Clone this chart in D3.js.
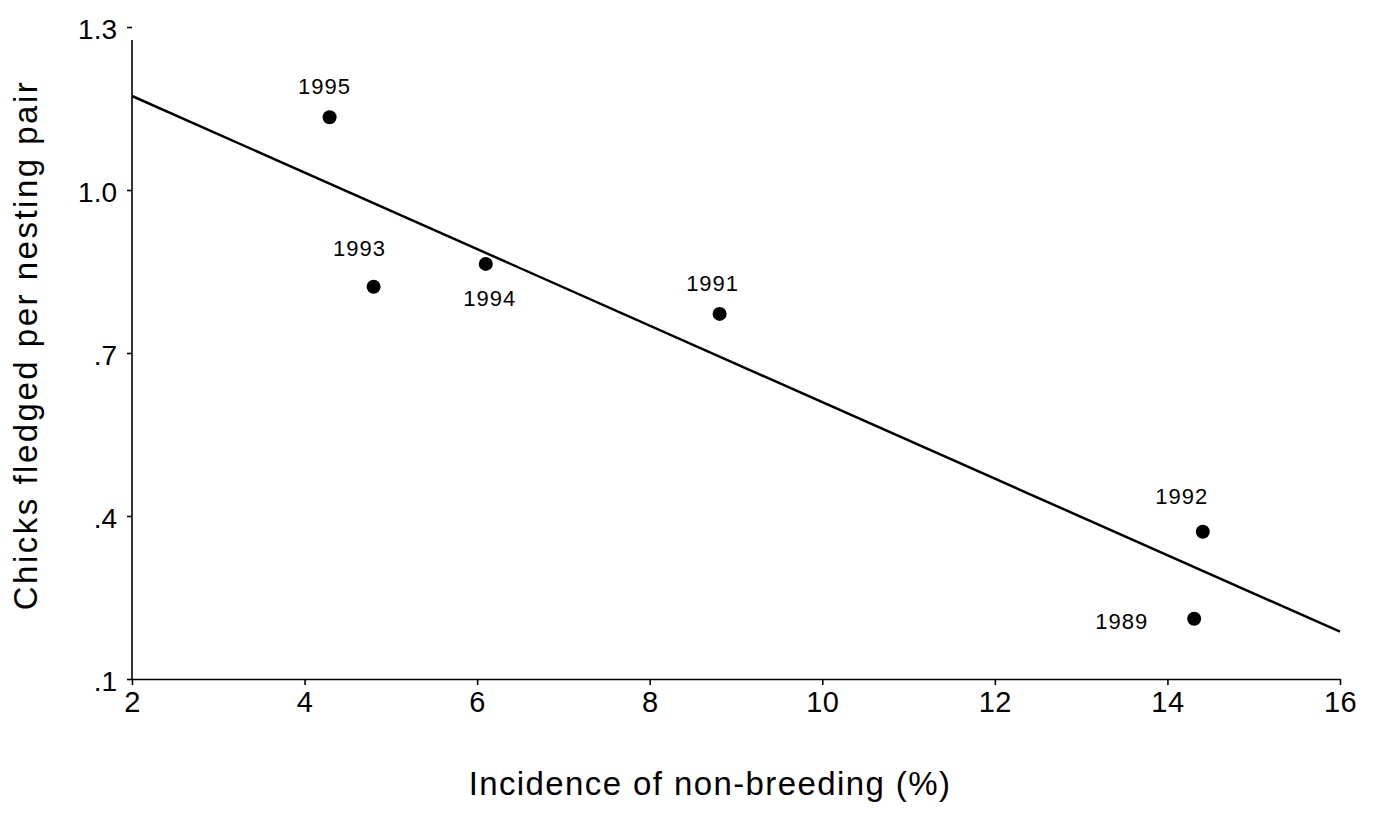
<!DOCTYPE html>
<html>
<head>
<meta charset="utf-8">
<script src="https://cdn.jsdelivr.net/npm/d3@7"></script>
<style>
  html, body { margin: 0; padding: 0; background: #fff; }
  svg { display: block; font-family: "Liberation Sans", Arial, sans-serif; }
</style>
</head>
<body>
<svg id="chart" width="1377" height="814"></svg>
<script>
// Data
const years = ["1995", "1993", "1994", "1991", "1992", "1989"];
const nonBreeding = [4.29, 4.80, 6.10, 8.81, 14.41, 14.31];
const chicksFledged = [1.134, 0.822, 0.864, 0.772, 0.371, 0.211];
const fitX = [2, 16];
const fitY = [1.173, 0.187];
const xTicks = [2, 4, 6, 8, 10, 12, 14, 16];
const yTicks = [0.1, 0.4, 0.7, 1.0, 1.3];
const yTickLabels = [".1", ".4", ".7", "1.0", "1.3"];
// label offsets (dx, dy, anchor) per year
const labelPos = {
  "1995": [-5, -23, "middle"],
  "1993": [-14, -31, "middle"],
  "1994": [4, 42, "middle"],
  "1991": [-7, -23, "middle"],
  "1992": [-21, -28, "middle"],
  "1989": [-46, 10, "end"]
};

const svg = d3.select("#chart");
const x = d3.scaleLinear().domain([2, 16]).range([132, 1340]);
const y = d3.scaleLinear().domain([0.1, 1.3]).range([679, 27]);
const FONT = "Liberation Sans, Arial, sans-serif";

// X axis
const xAxis = svg.append("g").attr("transform", `translate(0,${y(0.1)})`)
  .call(d3.axisBottom(x).tickValues(xTicks).tickSize(6).tickSizeOuter(0).tickPadding(6).tickFormat(d3.format("d")));
xAxis.select(".domain").attr("stroke", "#000").attr("stroke-width", 1.6);
xAxis.selectAll(".tick line").attr("stroke", "#000").attr("stroke-width", 1.6);
xAxis.selectAll(".tick text").attr("font-size", 29).attr("fill", "#000")
  .attr("font-family", FONT).attr("letter-spacing", 0.5);

// Y axis
const yAxis = svg.append("g").attr("transform", `translate(${x(2)},0)`)
  .call(d3.axisLeft(y).tickValues(yTicks).tickSize(5).tickSizeOuter(0).tickPadding(10)
    .tickFormat((d, i) => yTickLabels[i]));
yAxis.select(".domain").attr("stroke", "#000").attr("stroke-width", 1.6)
  .attr("d", `M0,${y(0.1)}V${y(1.276)}`);
yAxis.selectAll(".tick line").attr("stroke", "#000").attr("stroke-width", 1.6);
yAxis.selectAll(".tick text").attr("font-size", 28).attr("fill", "#000")
  .attr("font-family", FONT).attr("dy", "0.42em");

// Fit line
svg.append("line")
  .attr("x1", x(fitX[0])).attr("y1", y(fitY[0]))
  .attr("x2", x(fitX[1])).attr("y2", y(fitY[1]))
  .attr("stroke", "#000").attr("stroke-width", 2.5);

// Points
const pts = years.map((yr, i) => ({ yr, xv: nonBreeding[i], yv: chicksFledged[i] }));
svg.selectAll("circle.pt").data(pts).enter().append("circle")
  .attr("class", "pt")
  .attr("cx", d => x(d.xv)).attr("cy", d => y(d.yv)).attr("r", 7).attr("fill", "#000");

svg.selectAll("text.lbl").data(pts).enter().append("text")
  .attr("class", "lbl")
  .attr("x", d => x(d.xv) + labelPos[d.yr][0])
  .attr("y", d => y(d.yv) + labelPos[d.yr][1])
  .attr("text-anchor", d => labelPos[d.yr][2])
  .attr("font-size", 22).attr("letter-spacing", 1).attr("fill", "#000")
  .text(d => d.yr);

// Axis titles
svg.append("text").attr("x", 710).attr("y", 795).attr("text-anchor", "middle")
  .attr("font-size", 33).attr("letter-spacing", 1.4).attr("fill", "#000")
  .text("Incidence of non-breeding (%)");
svg.append("text").attr("transform", "translate(37,345) rotate(-90)").attr("text-anchor", "middle")
  .attr("font-size", 33).attr("letter-spacing", 2.5).attr("fill", "#000")
  .text("Chicks fledged per nesting pair");
</script>
</body>
</html>
